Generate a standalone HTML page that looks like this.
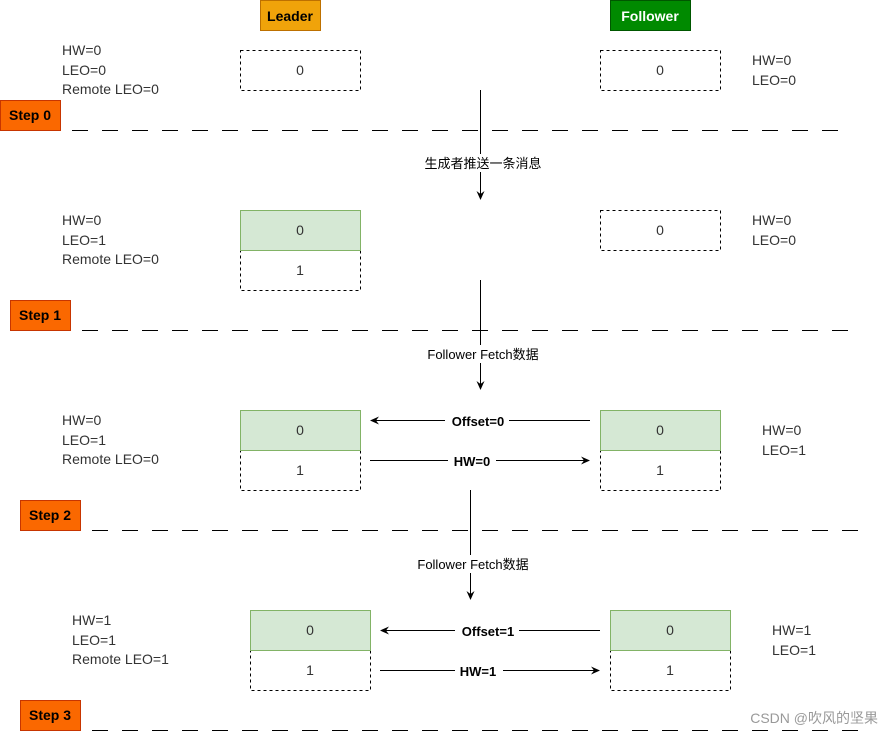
<!DOCTYPE html>
<html><head><meta charset="utf-8"><style>body{margin:0;background:#fff}svg{display:block}text{font-family:"Liberation Sans","Noto Sans CJK SC",sans-serif}</style></head><body>
<svg width="882" height="732" viewBox="0 0 882 732" xmlns="http://www.w3.org/2000/svg">
<defs><marker id="a" markerWidth="10" markerHeight="10" refX="8" refY="5" orient="auto" markerUnits="userSpaceOnUse"><path d="M0,1 L9,5 L0,9 L3,5 Z" fill="#000"/></marker></defs>
<rect x="260.5" y="0.5" width="60" height="30" fill="#f0a30a" stroke="#bd7000"/>
<text x="290" y="21" font-size="14" font-weight="bold" text-anchor="middle" fill="#000">Leader</text>
<rect x="610.5" y="0.5" width="80" height="30" fill="#008a00" stroke="#005700"/>
<text x="650" y="21" font-size="14" font-weight="bold" text-anchor="middle" fill="#fff">Follower</text>
<g font-size="14" fill="#333">
<text x="62" y="55">HW=0</text><text x="62" y="75">LEO=0</text><text x="62" y="94">Remote LEO=0</text>
<text x="752" y="65">HW=0</text><text x="752" y="85">LEO=0</text>
<text x="62" y="225">HW=0</text><text x="62" y="245">LEO=1</text><text x="62" y="264">Remote LEO=0</text>
<text x="752" y="225">HW=0</text><text x="752" y="245">LEO=0</text>
<text x="62" y="425">HW=0</text><text x="62" y="445">LEO=1</text><text x="62" y="464">Remote LEO=0</text>
<text x="762" y="435">HW=0</text><text x="762" y="455">LEO=1</text>
<text x="72" y="625">HW=1</text><text x="72" y="645">LEO=1</text><text x="72" y="664">Remote LEO=1</text>
<text x="772" y="635">HW=1</text><text x="772" y="655">LEO=1</text>
</g>
<g stroke="#000" stroke-dasharray="3,3" fill="none">
<rect x="240.5" y="50.5" width="120" height="40"/><rect x="600.5" y="50.5" width="120" height="40"/>
<rect x="240.5" y="250.5" width="120" height="40"/><rect x="600.5" y="210.5" width="120" height="40"/>
<rect x="240.5" y="450.5" width="120" height="40"/><rect x="600.5" y="450.5" width="120" height="40"/>
<rect x="250.5" y="650.5" width="120" height="40"/><rect x="610.5" y="650.5" width="120" height="40"/>
</g>
<g fill="#d5e8d4" stroke="#82b366">
<rect x="240.5" y="210.5" width="120" height="40"/>
<rect x="240.5" y="410.5" width="120" height="40"/><rect x="600.5" y="410.5" width="120" height="40"/>
<rect x="250.5" y="610.5" width="120" height="40"/><rect x="610.5" y="610.5" width="120" height="40"/>
</g>
<g font-size="14" fill="#333" text-anchor="middle">
<text x="300" y="75">0</text><text x="660" y="75">0</text>
<text x="300" y="235">0</text><text x="300" y="275">1</text><text x="660" y="235">0</text>
<text x="300" y="435">0</text><text x="300" y="475">1</text><text x="660" y="435">0</text><text x="660" y="475">1</text>
<text x="310" y="635">0</text><text x="310" y="675">1</text><text x="670" y="635">0</text><text x="670" y="675">1</text>
</g>
<g stroke="#000" stroke-dasharray="16,14" stroke-width="1">
<line x1="72" y1="130.5" x2="852" y2="130.5"/><line x1="82" y1="330.5" x2="862" y2="330.5"/>
<line x1="92" y1="530.5" x2="872" y2="530.5"/><line x1="92" y1="730.5" x2="872" y2="730.5"/>
</g>
<g fill="#fa6800" stroke="#c73500">
<rect x="0.5" y="100.5" width="60" height="30"/><rect x="10.5" y="300.5" width="60" height="30"/>
<rect x="20.5" y="500.5" width="60" height="30"/><rect x="20.5" y="700.5" width="60" height="30"/>
</g>
<g font-size="14" font-weight="bold" fill="#000" text-anchor="middle">
<text x="30" y="120">Step 0</text><text x="40" y="320">Step 1</text><text x="50" y="520">Step 2</text><text x="50" y="720">Step 3</text>
</g>
<g stroke="#000" fill="none" marker-end="url(#a)">
<line x1="480.5" y1="90" x2="480.5" y2="199"/>
<line x1="480.5" y1="280" x2="480.5" y2="389"/>
<line x1="470.5" y1="490" x2="470.5" y2="599"/>
<line x1="590" y1="420.5" x2="371" y2="420.5"/>
<line x1="370" y1="460.5" x2="589" y2="460.5"/>
<line x1="600" y1="630.5" x2="381" y2="630.5"/>
<line x1="380" y1="670.5" x2="599" y2="670.5"/>
</g>
<g font-size="13" text-anchor="middle" fill="#000">
<rect x="410" y="154" width="145" height="18" fill="#fff"/><text x="483" y="168">生成者推送一条消息</text>
<rect x="415" y="345" width="136" height="18" fill="#fff"/><text x="483" y="359">Follower Fetch数据</text>
<rect x="405" y="555" width="136" height="18" fill="#fff"/><text x="473" y="569">Follower Fetch数据</text>
<g font-weight="bold">
<rect x="445" y="412" width="64" height="17" fill="#fff"/><text x="478" y="426">Offset=0</text>
<rect x="448" y="452" width="48" height="17" fill="#fff"/><text x="472" y="466">HW=0</text>
<rect x="455" y="622" width="64" height="17" fill="#fff"/><text x="488" y="636">Offset=1</text>
<rect x="455" y="662" width="48" height="17" fill="#fff"/><text x="478" y="676">HW=1</text>
</g>
</g>
<text x="878" y="723" font-size="14" fill="#999" text-anchor="end">CSDN @吹风的坚果</text>
</svg>
</body></html>
